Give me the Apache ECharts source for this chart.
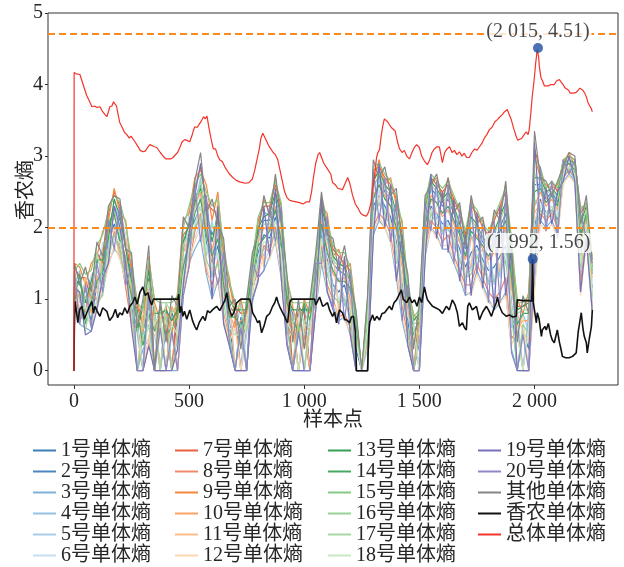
<!DOCTYPE html>
<html>
<head>
<meta charset="utf-8">
<script src="https://cdn.jsdelivr.net/npm/echarts@6/dist/echarts.min.js"></script>
<style>
  html, body { margin: 0; padding: 0; background: #fff; }
  #chart { width: 624px; height: 567px; }
</style>
</head>
<body>
<div id="chart"></div>
<script>
// Sample positions shared by the per-unit entropy curves
const sampleIdx = [0,3,25,50,75,100,125,150,175,200,225,250,275,300,325,350,375,400,425,450,475,500,525,550,575,600,625,650,675,700,725,750,775,800,825,850,875,900,925,950,975,1000,1025,1050,1075,1100,1125,1150,1175,1200,1225,1250,1275,1300,1325,1350,1375,1400,1425,1450,1475,1500,1525,1550,1575,1600,1625,1650,1675,1700,1725,1750,1775,1800,1825,1850,1875,1900,1925,1950,1975,2000,2025,2050,2075,2100,2125,2150,2175,2200,2225,2250];

const unit01 = [0,1.10,0.85,1.00,0.70,1.20,1.35,1.80,2.05,1.85, 1.45,1.00,0,0.55,0.90,0,0.60,0,0.85,0.40, 1.40,1.95,2.10,2.30,1.80,1.50,1.75,1.10,0.70,0, 0.75,0,1.20,1.65,1.90,1.85,2.15,1.70,0.75,0, 0.50,0.90,0,1.15,1.90,1.55,1.20,1.10,1.20,0.85, 0.30,0,0,2.30,2.45,2.30,2.15,1.80,1.25,0.70, 0,0.40,1.90,2.30,2.20,2.05,2.10,1.90,1.70,1.45, 1.65,1.75,1.55,1.40,1.45,1.60,1.75,0.95,0,0.55, 0.30,2.00,2.40,2.20,2.30,2.10,2.75,2.85,2.75,1.60, 2.05,1.15];
const unit02 = [0,1.30,1.20,1.10,1.30,1.50,1.70,2.00,2.30,2.10, 1.80,1.30,0.70,0,1.30,0.80,0,0.90,0,0.80, 1.70,2.10,2.40,2.60,2.20,1.90,2.10,1.40,0.90,0.80, 0,0.90,1.35,1.90,2.10,2.10,2.40,2.05,1.00,0.80, 0,0,0.70,1.35,2.20,1.85,1.50,1.40,1.35,1.10, 0.55,0,0.50,2.60,2.70,2.50,2.40,2.10,1.70,1.00, 0.60,0,2.15,2.55,2.45,2.30,2.40,2.20,1.95,1.70, 2.00,2.00,1.80,1.70,1.80,2.00,2.20,1.40,0.70,0, 0.80,2.60,2.60,2.40,2.50,2.35,2.85,2.95,2.85,1.90, 2.20,1.35];
const unit03 = [0,0.95,0.65,0.60,0.55,0.90,1.10,1.50,1.70,1.60, 1.20,0.70,0,0.30,0.45,0,0,0.55,0,0, 1.05,1.50,1.70,1.85,1.35,1.00,1.25,0.70,0.35,0, 0,0.60,0.95,1.30,1.40,1.60,1.80,1.30,0.40,0, 0,0.60,0,0.85,1.50,1.10,0.90,0.70,0.75,0.50, 0,0,0,1.90,2.10,2.00,1.80,1.30,0.70,0.35, 0,0,1.60,2.00,1.90,1.70,1.70,1.50,1.30,1.05, 1.10,1.40,1.20,1.00,0.85,0.95,1.10,0.30,0,0, 0,1.20,2.10,2.00,2.10,1.90,2.65,2.75,2.65,1.10, 1.85,0.85];
const unit04 = [0,1.20,1.40,0.80,1.10,1.00,1.60,2.10,2.20,1.75, 1.60,1.20,0.50,0,1.00,0,0.75,0,0.50,0.90, 1.20,1.75,2.30,2.70,2.00,1.30,1.95,1.30,0.55,0.50, 0.95,0,1.10,1.50,2.20,2.20,2.00,1.90,0.55,0.50, 0.80,0,0,1.00,2.00,1.30,1.60,1.50,0.90,1.20, 0,0,0,2.10,2.70,2.20,2.50,1.50,1.60,0.50, 0.50,0.70,2.05,2.60,2.10,2.40,1.95,2.00,1.50,1.80, 1.40,2.10,1.40,1.80,1.20,1.90,1.50,1.20,0.50,0.80, 0.55,1.80,2.70,2.05,2.50,2.00,2.85,2.80,2.70,1.30, 2.30,1.00];
const unit05 = [0,1.40,0.95,1.25,0.90,1.40,1.20,1.70,2.40,2.00, 1.30,0.90,0.80,0.45,0.60,0.50,0,0,0.75,0.55, 1.55,1.65,2.00,2.45,1.60,2.10,1.50,0.90,1.00,0, 0,0.50,1.45,1.80,1.60,2.00,2.30,1.50,0.80,0.60, 0,0.75,0.50,1.50,1.70,2.00,1.10,1.30,1.00,0.70, 0.60,0,0.30,2.50,2.30,2.60,1.95,2.30,1.00,0.90, 0,0.45,1.75,2.20,2.50,1.90,2.60,1.70,1.85,1.20, 1.90,1.60,1.70,1.20,1.90,1.30,2.00,0.60,0.75,0, 0.90,2.40,2.25,2.50,2.20,2.45,2.90,2.90,2.60,2.00, 1.95,1.25];
const unit06 = [0,1.00,1.10,0.70,1.35,1.10,1.80,1.60,1.90,2.25, 1.90,1.40,0,0.70,1.20,0.75,0.55,0.70,0,0.30, 1.30,2.25,1.85,2.10,2.40,1.60,2.30,1.60,0.60,0.55, 0.60,0,1.00,2.00,1.50,1.70,1.95,2.20,1.10,0, 0.70,0,0.80,1.25,2.35,1.40,1.70,0.90,1.55,1.00, 0,0,0.60,2.00,2.55,2.00,2.60,1.65,1.90,1.10, 0.70,0,2.30,2.15,2.30,2.50,2.20,2.40,1.40,1.60, 2.20,1.40,1.90,1.50,1.00,2.20,1.20,1.60,0,0.60, 0,2.80,2.30,2.30,2.40,2.20,2.70,3.00,2.75,1.40, 2.10,0.95];
const unit07 = [0,1.45,1.30,1.30,1.00,1.65,1.50,2.20,2.50,2.30, 1.70,1.50,0.90,0.65,1.50,0,0.90,0.60,0,1.00, 1.90,2.00,2.55,2.85,2.35,2.25,2.20,1.70,1.20,0.90, 0.80,0.80,1.50,2.10,2.30,2.30,2.60,2.30,1.20,0, 0.90,0.80,0,1.50,2.40,2.00,1.70,1.60,1.50,1.40, 0.70,0,0.90,2.80,2.85,2.70,2.60,2.40,1.90,1.20, 0,0.80,2.35,2.70,2.60,2.50,2.60,2.40,2.20,1.90, 2.30,2.20,2.00,1.90,2.10,2.30,2.50,1.70,0.90,0.90, 1.00,3.10,2.80,2.55,2.65,2.50,2.95,3.00,2.95,2.20, 2.35,1.50];
const unit08 = [0,1.15,0.70,0.85,1.20,0.95,1.25,1.55,1.95,1.70, 1.15,0.65,0.60,0,0.35,0.90,0,0,0.60,0, 1.15,1.45,1.95,2.20,1.40,1.20,1.55,0.80,0.45,0.70, 0,0,1.15,1.40,1.75,1.65,2.00,1.55,0.50,0.70, 0,0.50,0,0.95,1.75,1.20,1.00,0.75,0.80,0.60, 0,0,0,2.00,2.20,2.10,1.90,1.40,0.90,0.50, 0,0.55,1.70,2.10,2.00,1.80,1.90,1.60,1.40,1.20, 1.20,1.50,1.30,1.10,1.00,1.10,1.30,0.45,0.55,0, 0,1.50,2.20,2.10,2.20,2.00,2.70,2.80,2.70,1.20, 1.90,0.90];
const unit09 = [0,1.50,1.45,1.20,1.50,1.60,1.95,2.10,2.55,2.20, 2.10,1.35,1.00,0.60,1.60,0.95,0.70,0.90,0.50,1.10, 2.10,2.20,2.70,2.80,2.60,2.10,2.50,1.60,1.30,0.70, 1.00,0.60,1.60,2.00,2.40,2.20,2.70,2.10,1.30,0.90, 0.50,1.00,0.80,1.60,2.30,2.20,1.60,1.70,1.40,1.50, 0.80,0,1.00,2.60,2.95,2.60,2.70,2.30,2.10,1.10, 0.80,0.60,2.40,2.60,2.70,2.40,2.70,2.30,2.30,1.80, 2.40,2.10,2.10,1.80,2.20,2.20,2.60,1.70,1.00,0.80, 1.10,3.00,2.70,2.60,2.55,2.60,2.90,3.05,2.85,2.30, 2.25,1.60];
const unit10 = [0,1.25,1.00,1.15,0.80,1.30,1.45,1.95,2.15,1.95, 1.55,1.10,0.70,0.55,1.10,0.60,0.75,0,0.90,0.70, 1.65,1.85,2.30,2.50,1.95,1.70,2.00,1.25,0.80,0.60, 0.70,0.75,1.30,1.80,2.00,1.95,2.30,1.85,0.90,0.55, 0.60,0.55,0.60,1.25,2.10,1.70,1.35,1.25,1.30,1.00, 0.45,0,0.40,2.45,2.60,2.45,2.30,1.95,1.45,0.85, 0.40,0.60,2.00,2.45,2.35,2.15,2.25,2.05,1.80,1.55, 1.85,1.90,1.70,1.55,1.65,1.80,2.00,1.20,0.60,0.70, 0.70,2.30,2.50,2.30,2.40,2.25,2.80,2.90,2.80,1.75, 2.15,1.30];
const unit11 = [0,1.35,0.75,1.30,1.10,1.10,1.70,1.90,2.00,1.55, 1.85,0.80,0,0.80,0.70,0.70,0,0.80,0,0.60, 1.85,1.55,2.55,2.00,2.10,1.40,2.40,1.00,1.10,0, 0.55,0.65,1.05,2.05,1.45,2.25,1.90,1.95,0.60,0.75, 0,0.70,0,1.45,1.80,1.50,1.65,0.80,1.60,0.80, 0,0,0,2.20,2.40,2.70,2.00,2.20,1.10,0.80, 0.60,0,1.80,2.40,2.20,2.20,2.50,1.80,2.10,1.30, 1.50,2.15,1.30,1.60,1.70,1.40,2.40,0.80,0.80,0.55, 0.40,2.20,2.35,2.45,2.15,2.30,2.75,2.85,2.90,1.50, 2.00,1.10];
const unit12 = [0,1.05,0.90,0.75,0.65,0.85,1.15,1.45,1.75,1.55, 1.25,0.75,0,0,0.50,0,0.50,0.70,0.50,0, 1.10,1.55,1.80,2.00,1.50,1.10,1.30,0.75,0.40,0.60, 0,0.75,1.00,1.35,1.60,1.55,1.85,1.35,0.45,0.55, 0.75,0,0.55,0.90,1.60,1.15,0.95,0.80,0.70,0.55, 0.55,0,0,1.95,2.15,2.00,1.80,1.40,0.80,0.40, 0.55,0.50,1.65,2.00,1.85,1.75,1.75,1.55,1.35,1.10, 1.05,1.35,1.15,0.95,0.90,0.95,1.05,0.35,0.60,0.75, 0,1.10,2.05,1.95,2.05,1.85,2.62,2.72,2.62,1.05, 1.80,0.85];
const unit13 = [0,1.20,1.25,0.95,1.25,1.55,1.55,1.85,2.40,2.15, 1.70,1.25,0.55,0.90,1.40,0.80,0.80,0.85,0.70,0.85, 1.80,2.05,2.35,2.55,2.25,1.80,2.20,1.45,1.00,0.85, 0.85,0.85,1.40,2.00,2.15,2.20,2.50,2.15,1.05,0.85, 0.85,0.85,0.85,1.45,2.30,1.95,1.60,1.50,1.45,1.25, 0.65,0,0.80,2.65,2.80,2.60,2.50,2.20,1.80,1.10, 0.70,0.80,2.25,2.65,2.55,2.40,2.50,2.30,2.05,1.80, 2.15,2.05,1.85,1.80,1.95,2.15,2.35,1.55,0.85,0.90, 0.95,2.70,2.70,2.50,2.55,2.45,2.90,2.95,2.90,2.05, 2.30,1.45];
const unit14 = [0,0.95,1.35,0.65,0.95,1.25,1.40,2.05,2.20,1.80, 1.40,1.05,0.85,0.35,0.80,0.55,0.90,0.50,0.60,0.75, 1.45,1.80,2.20,2.40,1.90,1.60,1.85,1.20,0.75,0.75, 0.60,0.90,1.30,1.75,1.85,1.95,2.25,1.80,0.95,0.70, 0.55,0.95,0.70,1.30,2.05,1.65,1.40,1.25,1.25,1.15, 0.75,0,0.70,2.40,2.60,2.40,2.30,2.00,1.60,1.00, 0.50,0.75,2.05,2.40,2.35,2.20,2.30,2.10,1.90,1.60, 1.95,1.85,1.75,1.60,1.75,1.95,2.10,1.30,0.65,0.80, 0.80,2.50,2.55,2.35,2.45,2.30,2.85,2.90,2.80,1.85, 2.20,1.40];
const unit15 = [0,1.40,1.50,1.35,1.40,1.75,1.90,2.25,2.45,2.35, 2.05,1.55,0.95,0.85,1.55,1.00,0.95,0.95,0.95,1.05, 2.00,2.30,2.60,2.75,2.50,2.30,2.40,1.75,1.25,0.95, 0.95,0.95,1.55,2.15,2.35,2.35,2.65,2.35,1.25,0.95, 0.95,0.95,0.95,1.55,2.45,2.10,1.75,1.65,1.65,1.45, 0.75,0,0.95,2.85,2.90,2.75,2.65,2.45,2.05,1.25, 0.75,0.85,2.35,2.75,2.65,2.55,2.65,2.45,2.25,1.95, 2.35,2.25,2.05,1.95,2.15,2.35,2.55,1.85,0.95,0.95, 1.05,2.95,2.85,2.55,2.65,2.55,2.95,3.00,2.95,2.25, 2.35,1.55];
const unit16 = [0,1.00,0.65,1.05,0.85,0.95,1.05,1.65,1.90,1.65, 1.30,0.90,0,0.50,0.65,0,0.65,0.75,0,0.45, 1.25,1.70,2.00,2.15,1.55,1.35,1.50,0.95,0.50,0, 0.65,0,1.10,1.55,1.70,1.75,1.95,1.60,0.65,0, 0.65,0,0.65,1.05,1.70,1.35,1.05,0.95,1.00,0.75, 0,0,0.45,2.15,2.35,2.20,2.00,1.70,1.05,0.60, 0,0.65,1.80,2.20,2.05,1.95,2.00,1.80,1.55,1.30, 1.35,1.60,1.45,1.25,1.25,1.40,1.55,0.80,0,0.65, 0.50,1.85,2.25,2.15,2.25,2.05,2.72,2.82,2.72,1.45, 2.00,1.05];
const unit17 = [0,1.30,1.05,0.55,1.05,1.65,1.25,1.75,2.25,1.90, 1.50,1.20,0.75,0.60,1.25,0.85,0,0.95,0.80,0.95, 1.75,1.95,2.25,2.65,2.10,2.00,2.05,1.50,0.95,0.90, 0.90,0.55,1.35,1.85,2.05,2.05,2.40,2.00,1.15,0.65, 0.90,0.65,0.90,1.40,2.20,1.80,1.55,1.45,1.40,1.30, 0.50,0,0.75,2.55,2.75,2.55,2.45,2.15,1.75,1.15, 0.65,0.70,2.20,2.60,2.50,2.35,2.45,2.25,2.00,1.75, 2.10,2.00,1.85,1.75,1.90,2.10,2.30,1.50,0.80,0.85, 0.85,2.75,2.65,2.45,2.55,2.40,2.85,2.95,2.85,2.00, 2.25,1.40];
const unit18 = [0,0.90,0.80,0.90,0.60,1.00,1.30,1.60,1.85,1.80, 1.35,0.95,0.65,0,0.85,0.65,0.80,0,0.65,0.50, 1.35,1.70,2.05,2.30,1.70,1.45,1.65,1.05,0.60,0.50, 0.50,0.65,1.10,1.60,1.80,1.80,2.10,1.65,0.70,0.50, 0,0.65,0.60,1.10,1.85,1.45,1.15,1.00,1.05,0.90, 0.40,0,0.55,2.20,2.40,2.25,2.05,1.75,1.30,0.75, 0.60,0,1.85,2.25,2.10,2.00,2.05,1.85,1.60,1.35, 1.40,1.70,1.50,1.30,1.30,1.50,1.65,0.90,0.50,0, 0.60,2.10,2.30,2.20,2.30,2.15,2.75,2.85,2.75,1.50, 2.05,1.10];
const unit19 = [0,1.15,1.10,0.50,0.55,0.85,1.30,1.50,2.30,2.00, 1.50,0.60,0,0,0.35,0,0,0,0,0.30, 1.20,1.90,2.45,2.90,2.30,1.00,2.30,0.65,0.35,0, 0,0,1.00,1.25,2.30,1.60,2.55,1.30,0.35,0, 0,0,0,0.85,2.40,1.10,0.85,0.65,1.60,0.50, 0,0,0,1.85,2.90,2.00,2.60,1.25,1.90,0.35, 0,0,1.55,2.75,1.85,2.50,1.65,2.40,1.25,1.90, 1.05,2.20,1.15,1.95,0.85,2.30,1.05,1.70,0,0, 0,3.20,2.05,2.55,2.05,2.50,2.65,3.00,2.65,1.10, 1.85,0.85];
const unit20 = [0,1.35,0.65,1.20,0.60,1.50,1.10,2.10,1.70,2.30, 1.20,1.45,0,0,1.10,0,0.60,0,0.55,0, 1.05,1.45,2.60,1.80,2.45,1.60,1.20,1.65,0.40,0, 0.60,0,1.50,1.30,1.40,2.30,1.80,2.30,0.40,0, 0.55,0,0,1.50,1.50,2.15,0.85,1.60,0.70,1.40, 0,0,0,2.80,2.10,2.70,1.80,2.40,0.70,1.20, 0,0,2.35,1.95,2.65,1.70,2.60,1.50,2.25,1.05, 2.35,1.35,2.05,0.95,2.10,0.95,2.50,0.25,0,0.50, 0,1.40,2.85,1.95,2.65,1.85,2.95,2.75,2.95,2.20, 1.85,1.50];
const unitOther = [0,1.50,1.20,1.45,1.10,1.80,1.60,2.30,2.45,2.40, 1.70,1.65,0.60,1.00,1.75,0,1.00,0.40,1.05,0.90, 2.15,2.00,2.65,3.05,2.20,2.40,2.05,1.85,0.90,1.00, 0.30,1.00,1.65,1.90,2.45,2.15,2.75,2.10,1.35,0.40, 1.00,0.30,1.00,1.65,2.50,1.90,1.85,1.40,1.75,1.25, 0.85,0,1.05,2.95,2.70,2.85,2.45,2.55,1.75,1.35, 0.30,0.95,2.45,2.60,2.75,2.35,2.70,2.20,2.35,1.75, 2.45,2.05,2.15,1.70,2.25,2.10,2.65,1.60,0.40,1.05, 0.80,3.35,2.70,2.65,2.45,2.65,2.85,3.05,3.00,2.05, 2.45,1.55];

// Shannon entropy of the unit sequence, [sample, value]
const shannon = [[0,0],[2,0.60],[5,0.97],[12,0.80],[17,0.67],[25,0.85],[35,0.90],[45,0.72],[56,0.81],[65,0.88],[78,0.97],[85,0.80],[91,0.90],[100,0.84],[113,0.76],[125,0.88],[143,0.83],[155,0.70],[169,0.76],[180,0.86],[190,0.74],[199,0.81],[210,0.78],[221,0.88],[232,0.80],[243,0.90],[255,0.95],[265,1.03],[275,0.93],[286,1.09],[299,1.17],[310,1.05],[321,1.09],[330,0.98],[338,0.92],[345,1.00],[351,0.99],[360,1.00],[400,1.00],[451,1.00],[455,1.07],[460,0.81],[466,0.90],[473,0.76],[480,0.83],[490,0.72],[503,0.85],[515,0.70],[525,0.62],[533,0.57],[545,0.68],[560,0.76],[570,0.70],[580,0.84],[590,0.81],[605,0.86],[620,0.90],[633,0.84],[646,0.92],[655,0.98],[664,1.09],[673,0.88],[685,0.76],[695,0.82],[707,0.95],[715,0.97],[725,1.00],[763,1.00],[770,0.92],[776,0.81],[787,0.75],[798,0.67],[806,0.70],[815,0.53],[825,0.62],[837,0.76],[850,0.80],[863,0.90],[872,0.95],[880,1.03],[887,0.95],[893,0.90],[905,0.82],[915,0.76],[922,0.70],[928,0.67],[937,0.95],[945,1.00],[1045,1.00],[1050,0.92],[1058,0.90],[1067,1.03],[1075,1.05],[1080,0.90],[1090,0.92],[1101,0.95],[1110,0.85],[1123,0.76],[1132,0.82],[1140,0.67],[1153,0.85],[1166,0.81],[1175,0.72],[1184,0.71],[1197,0.67],[1205,0.75],[1214,0.76],[1222,0.55],[1227,0],[1275,0],[1280,0.50],[1284,0.67],[1290,0.72],[1297,0.78],[1305,0.70],[1315,0.76],[1327,0.71],[1338,0.80],[1349,0.81],[1360,0.86],[1370,0.90],[1380,0.85],[1390,0.95],[1401,0.99],[1410,1.05],[1422,1.13],[1430,1.00],[1435,1.02],[1445,0.95],[1457,1.03],[1468,0.95],[1479,0.99],[1490,0.90],[1500,1.03],[1510,0.95],[1522,1.17],[1530,1.05],[1535,0.99],[1545,0.95],[1557,0.90],[1570,0.88],[1587,0.85],[1600,0.80],[1617,0.90],[1630,0.85],[1643,0.99],[1655,0.92],[1665,0.81],[1674,0.62],[1687,0.67],[1696,0.60],[1704,0.57],[1710,0.90],[1717,0.95],[1730,0.85],[1748,0.90],[1761,0.71],[1775,0.82],[1791,0.90],[1800,0.85],[1813,0.76],[1825,0.88],[1834,0.95],[1839,1.03],[1848,0.90],[1860,0.81],[1878,0.76],[1891,0.78],[1905,0.75],[1921,0.76],[1925,0.99],[1950,0.98],[1977,0.98],[1988,0.97],[1992,1.56],[1995,0.95],[1999,0.95],[2008,0.67],[2012,0.81],[2020,0.72],[2030,0.48],[2034,0.57],[2045,0.62],[2051,0.57],[2060,0.66],[2070,0.50],[2077,0.43],[2086,0.39],[2099,0.57],[2108,0.40],[2115,0.30],[2121,0.20],[2135,0.18],[2151,0.18],[2165,0.20],[2181,0.25],[2190,0.55],[2203,0.81],[2210,0.60],[2216,0.48],[2225,0.39],[2229,0.25],[2238,0.45],[2247,0.62],[2251,0.85]];

// Overall entropy, [sample, value]
const overall = [[0,0],[1,4.17],[10,4.15],[26,4.14],[40,4.00],[55,3.85],[70,3.75],[78,3.69],[90,3.70],[100,3.68],[113,3.69],[125,3.62],[135,3.58],[143,3.55],[150,3.62],[156,3.69],[165,3.70],[172,3.76],[178,3.73],[185,3.70],[192,3.58],[199,3.47],[210,3.40],[220,3.33],[230,3.30],[240,3.25],[248,3.28],[256,3.26],[265,3.20],[275,3.15],[288,3.08],[299,3.06],[310,3.07],[320,3.12],[330,3.16],[338,3.15],[350,3.13],[360,3.12],[375,3.05],[390,2.99],[400,2.96],[408,2.95],[420,2.96],[430,2.98],[438,2.99],[450,3.05],[460,3.12],[470,3.20],[481,3.23],[490,3.22],[503,3.20],[512,3.28],[518,3.35],[525,3.41],[535,3.40],[545,3.45],[555,3.50],[563,3.55],[570,3.52],[578,3.56],[585,3.42],[595,3.25],[605,3.10],[615,3.10],[625,3.00],[633,2.95],[645,2.92],[655,2.85],[663,2.81],[675,2.75],[690,2.70],[705,2.66],[720,2.64],[733,2.63],[745,2.62],[760,2.63],[775,2.68],[785,2.80],[795,2.95],[805,3.10],[812,3.25],[820,3.32],[828,3.30],[835,3.22],[845,3.15],[855,3.10],[865,3.05],[875,3.02],[885,2.95],[895,2.80],[905,2.65],[915,2.50],[925,2.42],[937,2.38],[950,2.37],[965,2.36],[980,2.35],[995,2.33],[1010,2.36],[1023,2.36],[1032,2.50],[1040,2.70],[1050,2.90],[1060,3.02],[1067,3.05],[1075,3.03],[1085,2.90],[1095,2.85],[1105,2.80],[1115,2.75],[1123,2.63],[1135,2.60],[1145,2.55],[1153,2.57],[1166,2.53],[1178,2.62],[1189,2.70],[1198,2.62],[1210,2.45],[1222,2.33],[1232,2.28],[1245,2.20],[1258,2.17],[1270,2.16],[1280,2.22],[1290,2.35],[1300,2.60],[1308,2.80],[1314,2.98],[1320,3.05],[1327,3.09],[1333,3.25],[1340,3.40],[1348,3.52],[1355,3.54],[1362,3.48],[1370,3.50],[1378,3.40],[1385,3.42],[1395,3.35],[1405,3.20],[1414,3.10],[1425,3.05],[1435,3.08],[1445,3.00],[1457,2.96],[1468,3.05],[1478,3.12],[1488,3.16],[1500,3.12],[1510,3.00],[1522,2.93],[1535,2.88],[1545,2.95],[1555,3.05],[1565,3.10],[1576,3.13],[1587,3.13],[1600,2.91],[1610,3.05],[1620,3.10],[1631,3.13],[1642,3.05],[1652,3.08],[1663,3.02],[1674,3.06],[1685,3.00],[1695,3.04],[1705,2.98],[1717,2.98],[1728,3.05],[1740,3.10],[1750,3.08],[1761,3.13],[1772,3.18],[1782,3.25],[1793,3.30],[1804,3.37],[1815,3.40],[1828,3.48],[1839,3.51],[1850,3.55],[1860,3.58],[1870,3.62],[1882,3.65],[1890,3.58],[1899,3.51],[1910,3.38],[1920,3.28],[1927,3.22],[1934,3.20],[1945,3.25],[1955,3.30],[1964,3.34],[1972,3.30],[1977,3.37],[1984,3.60],[1990,3.83],[1998,4.05],[2005,4.30],[2012,4.49],[2015,4.51],[2018,4.38],[2021,4.25],[2028,4.10],[2035,4.05],[2043,3.98],[2051,3.96],[2060,3.98],[2070,4.00],[2078,3.98],[2086,4.00],[2095,4.05],[2102,4.03],[2108,4.07],[2115,4.05],[2124,4.00],[2131,3.96],[2138,3.97],[2148,3.92],[2155,3.88],[2160,3.86],[2170,3.88],[2181,3.89],[2190,3.92],[2197,3.95],[2203,3.97],[2210,3.92],[2218,3.88],[2225,3.83],[2232,3.75],[2240,3.70],[2247,3.66],[2251,3.62]];

// Reference thresholds and annotated maxima
const thresholds = [4.71, 2.0];
const peaks = [[2015, 4.51], [1992, 1.56]];
const peakLabels = ['(2 015, 4.51)', '(1 992, 1.56)'];
const peakLabelShift = [[0, 0], [6, 0]];

// Axis ticks
const xTicks = [0, 500, 1000, 1500, 2000];
const xTickLabels = ['0', '500', '1 000', '1 500', '2 000'];
const yTicks = [0, 1, 2, 3, 4, 5];

const unitNames = ['1号单体熵','2号单体熵','3号单体熵','4号单体熵','5号单体熵','6号单体熵',
  '7号单体熵','8号单体熵','9号单体熵','10号单体熵','11号单体熵','12号单体熵',
  '13号单体熵','14号单体熵','15号单体熵','16号单体熵','17号单体熵','18号单体熵',
  '19号单体熵','20号单体熵','其他单体熵'];
const unitColors = ['#3f7db8','#4a86bf','#7cb1d8','#95c2e2','#a8cde8','#c4ddf0',
  '#e8603f','#ee8a6a','#f5883e','#f9a466','#fbbd8b','#fdd6b0',
  '#35a052','#48a860','#86c986','#98d296','#a7d9a2','#c6e8c0',
  '#7670b8','#8d88c5','#858585'];
const unitValues = [unit01,unit02,unit03,unit04,unit05,unit06,unit07,unit08,unit09,unit10,
  unit11,unit12,unit13,unit14,unit15,unit16,unit17,unit18,unit19,unit20,unitOther];

const FONT = "'Liberation Serif', 'Noto Sans CJK SC', serif";
const TEXT = '#262626';

const series = unitNames.map((name, k) => ({
  name,
  type: 'line',
  symbol: 'none',
  animation: false,
  color: unitColors[k],
  lineStyle: { width: 1.2, color: unitColors[k] },
  data: sampleIdx.map((x, i) => [x, unitValues[k][i]])
}));

series.push({
  name: '香农单体熵', type: 'line', symbol: 'none', animation: false,
  color: '#111111', lineStyle: { width: 1.6, color: '#111111' },
  data: shannon
});

series.push({
  name: '总体单体熵', type: 'line', symbol: 'none', animation: false,
  color: '#f2342a', lineStyle: { width: 1.2, color: '#f2342a' },
  data: overall,
  markLine: {
    silent: true, symbol: ['none', 'none'], animation: false,
    label: { show: false },
    lineStyle: { type: [7, 4], width: 2, color: '#ff8a1c' },
    data: thresholds.map(v => ({ yAxis: v }))
  }
});

series.push({
  name: 'peaks', type: 'scatter', animation: false, z: 10,
  symbolSize: 10, itemStyle: { color: '#1f4fa3' },
  data: peaks.map((p, i) => ({
    value: p,
    label: {
      show: true, position: 'top', distance: 1, offset: peakLabelShift[i],
      formatter: peakLabels[i],
      fontFamily: FONT, fontSize: 20, color: '#1a1a1a',
      backgroundColor: '#ffffff', borderRadius: 4, padding: [0, 2]
    }
  }))
});

const legendCommon = {
  orient: 'vertical', top: 440, padding: 0, itemGap: 0, height: 130,
  itemWidth: 23, itemHeight: 2, icon: 'rect', selectedMode: false,
  textStyle: { fontFamily: FONT, fontSize: 20, lineHeight: 21, color: TEXT }
};

const legendNames = unitNames.concat(['香农单体熵', '总体单体熵']);
const legend = [
  Object.assign({ left: 33, data: legendNames.slice(0, 6) }, legendCommon),
  Object.assign({ left: 175, data: legendNames.slice(6, 12) }, legendCommon),
  Object.assign({ left: 328, data: legendNames.slice(12, 18) }, legendCommon),
  Object.assign({ left: 478, data: legendNames.slice(18, 23) }, legendCommon)
];

const chart = echarts.init(document.getElementById('chart'), null, { renderer: 'canvas' });
chart.setOption({
  backgroundColor: '#ffffff',
  animation: false,
  grid: { left: 48, right: 6, top: 13, bottom: 182, containLabel: false, outerBoundsMode: 'none',
    show: true, borderColor: '#333', borderWidth: 1, backgroundColor: 'transparent' },
  legend,
  xAxis: {
    type: 'value', min: -112.5, max: 2362.5,
    name: '样本点', nameLocation: 'middle', nameGap: 26, nameMoveOverlap: false,
    nameTextStyle: { fontFamily: FONT, fontSize: 20, color: TEXT },
    axisLine: { show: false, onZero: false },
    axisTick: { show: true, inside: false, length: 4, customValues: xTicks, lineStyle: { color: '#333' } },
    axisLabel: { customValues: xTicks, margin: 7, fontFamily: FONT, fontSize: 20, color: TEXT,
      formatter: v => xTickLabels[xTicks.indexOf(v)] },
    splitLine: { show: false }
  },
  yAxis: {
    type: 'value', min: -0.2, max: 5,
    name: '香农熵', nameLocation: 'middle', nameGap: 11, nameMoveOverlap: false,
    nameTextStyle: { fontFamily: FONT, fontSize: 20, color: TEXT, padding: [0, 0, 0, 18] },
    axisLine: { show: false, onZero: false },
    axisTick: { show: true, inside: false, length: 3, customValues: yTicks, lineStyle: { color: '#333' } },
    axisLabel: { customValues: yTicks, margin: 5, fontFamily: FONT, fontSize: 20, color: TEXT },
    splitLine: { show: false }
  },
  series
});
</script>
</body>
</html>
